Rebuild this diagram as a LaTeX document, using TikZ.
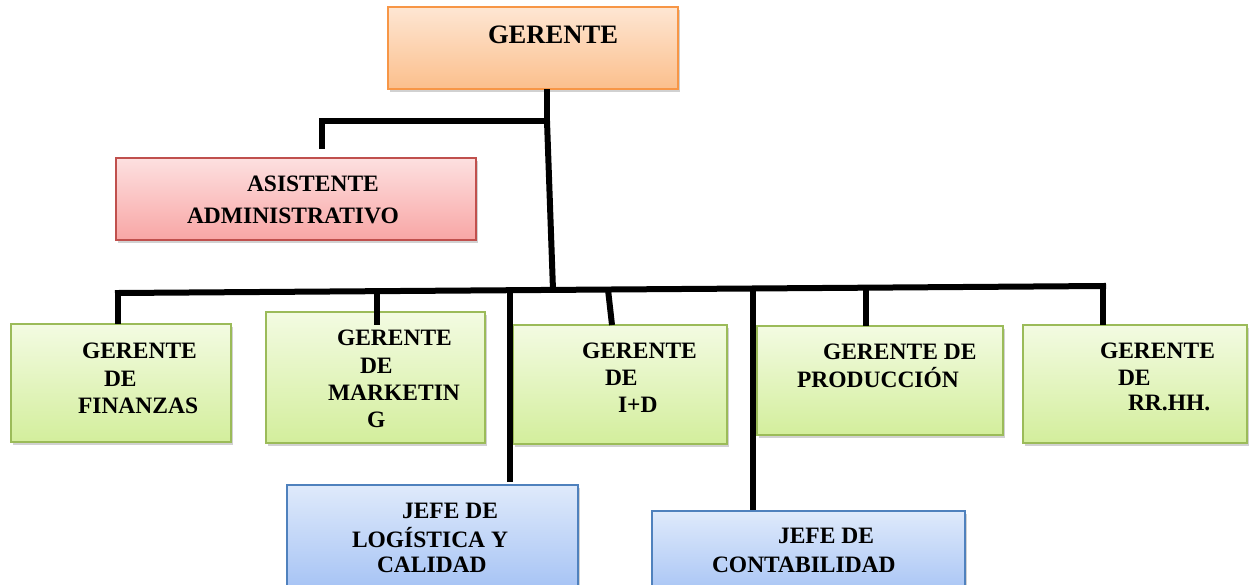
\documentclass[tikz,border=0pt]{standalone}
\usepackage{fontspec}
\setmainfont{Liberation Serif}
\usetikzlibrary{shadows}
\definecolor{orb}{HTML}{F79646}\definecolor{ort}{HTML}{FEE6D3}\definecolor{orf}{HTML}{FBBF8C}
\definecolor{rdb}{HTML}{C0504D}\definecolor{rdt}{HTML}{FDE0E0}\definecolor{rdf}{HTML}{F8A6A5}
\definecolor{grb}{HTML}{9BBB59}\definecolor{grt}{HTML}{F3FBE2}\definecolor{grf}{HTML}{D3EE9C}
\definecolor{blb}{HTML}{4F81BD}\definecolor{blt}{HTML}{DFEAFB}\definecolor{blf}{HTML}{A3C1F4}
\tikzset{
  boxbase/.style={draw, line width=1.8pt, anchor=north west, inner sep=0pt, outer sep=0pt,
    drop shadow={shadow xshift=1.5pt, shadow yshift=-3pt, opacity=0.3, fill=black!60}},
  orangebox/.style={boxbase, draw=orb, top color=ort, bottom color=orf},
  redbox/.style={boxbase, draw=rdb, top color=rdt, bottom color=rdf},
  greenbox/.style={boxbase, draw=grb, top color=grt, bottom color=grf},
  bluebox/.style={boxbase, draw=blb, top color=blt, bottom color=blf},
  lbl/.style={anchor=base west, inner sep=0pt, outer sep=0pt, font=\fontsize{23.5}{28}\selectfont\bfseries},
  biglbl/.style={lbl, font=\fontsize{26.6}{30}\selectfont\bfseries},
  conn/.style={draw=black, line width=6pt}
}
\begin{document}
\begin{tikzpicture}[x=1pt,y=-1pt]
\useasboundingbox (0,0) rectangle (1255,584);
% boxes
\node[orangebox, minimum width=290pt, minimum height=82pt] (ger) at (388,7) {};
\node[redbox, minimum width=360pt, minimum height=82pt] (asis) at (116,158) {};
\node[greenbox, minimum width=220pt, minimum height=118pt] (fin) at (11,324) {};
\node[greenbox, minimum width=219pt, minimum height=131pt] (mkt) at (266,312) {};
\node[greenbox, minimum width=214pt, minimum height=119pt] (imd) at (513,325) {};
\node[greenbox, minimum width=246pt, minimum height=109pt] (prod) at (757,326) {};
\node[greenbox, minimum width=224pt, minimum height=118pt] (rrhh) at (1023,325) {};
\node[bluebox, minimum width=291pt, minimum height=110pt] (log) at (287,485) {};
\node[bluebox, minimum width=313pt, minimum height=90pt] (cont) at (652,511) {};
% texts
\node[biglbl] (t-ger) at (488,43) {GERENTE};
\node[lbl] (t-as1) at (247,191) {ASISTENTE};
\node[lbl] (t-as2) at (187,223) {ADMINISTRATIVO};
\node[lbl] (t-fi1) at (82,358) {GERENTE};
\node[lbl] (t-fi2) at (104,386) {DE};
\node[lbl] (t-fi3) at (78,413) {FINANZAS};
\node[lbl] (t-mk1) at (337,345) {GERENTE};
\node[lbl] (t-mk2) at (360,373) {DE};
\node[lbl] (t-mk3) at (328,400) {MARKETIN};
\node[lbl] (t-mk4) at (367,427) {G};
\node[lbl] (t-id1) at (582,358) {GERENTE};
\node[lbl] (t-id2) at (605,385) {DE};
\node[lbl] (t-id3) at (618,412) {I+D};
\node[lbl] (t-pr1) at (823,359) {GERENTE DE};
\node[lbl] (t-pr2) at (797,387) {PRODUCCIÓN};
\node[lbl] (t-rh1) at (1100,358) {GERENTE};
\node[lbl] (t-rh2) at (1118,385) {DE};
\node[lbl] (t-rh3) at (1128,410) {RR.HH.};
\node[lbl] (t-lo1) at (402,518) {JEFE DE};
\node[lbl] (t-lo2) at (352,547) {LOGÍSTICA Y};
\node[lbl] (t-lo3) at (377,572) {CALIDAD};
\node[lbl] (t-co1) at (778,543) {JEFE DE};
\node[lbl] (t-co2) at (712,572) {CONTABILIDAD};
% junction points
\coordinate (j1) at (547,121);
\coordinate (ja) at (322,121);
\coordinate (jt) at (553,290);
\coordinate (bl) at (118,293);
\coordinate (br) at (1103,286);
\coordinate (bmk) at (377,291.5);
\coordinate (bid) at (608,289.5);
\coordinate (blo) at (510,290);
\coordinate (bco) at (753,288.3);
\coordinate (bpr) at (866,287.5);
% connectors
\draw[conn] (j1 |- ger.south) -- (j1) -- (ja) -- (322,149);
\draw[conn] (j1) -- (jt);
\draw[conn, line cap=rect] (bl) -- (br);
\draw[conn] (bl) -- (fin.north -| bl);
\draw[conn] (br) -- (br |- rrhh.north);
\draw[conn] (bmk) -- (377,325);
\draw[conn] (bid) -- (612,325);
\draw[conn] (bpr) -- (bpr |- prod.north);
\draw[conn] (blo) -- (510,482);
\draw[conn] (bco) -- (753,510);
\end{tikzpicture}
\end{document}
